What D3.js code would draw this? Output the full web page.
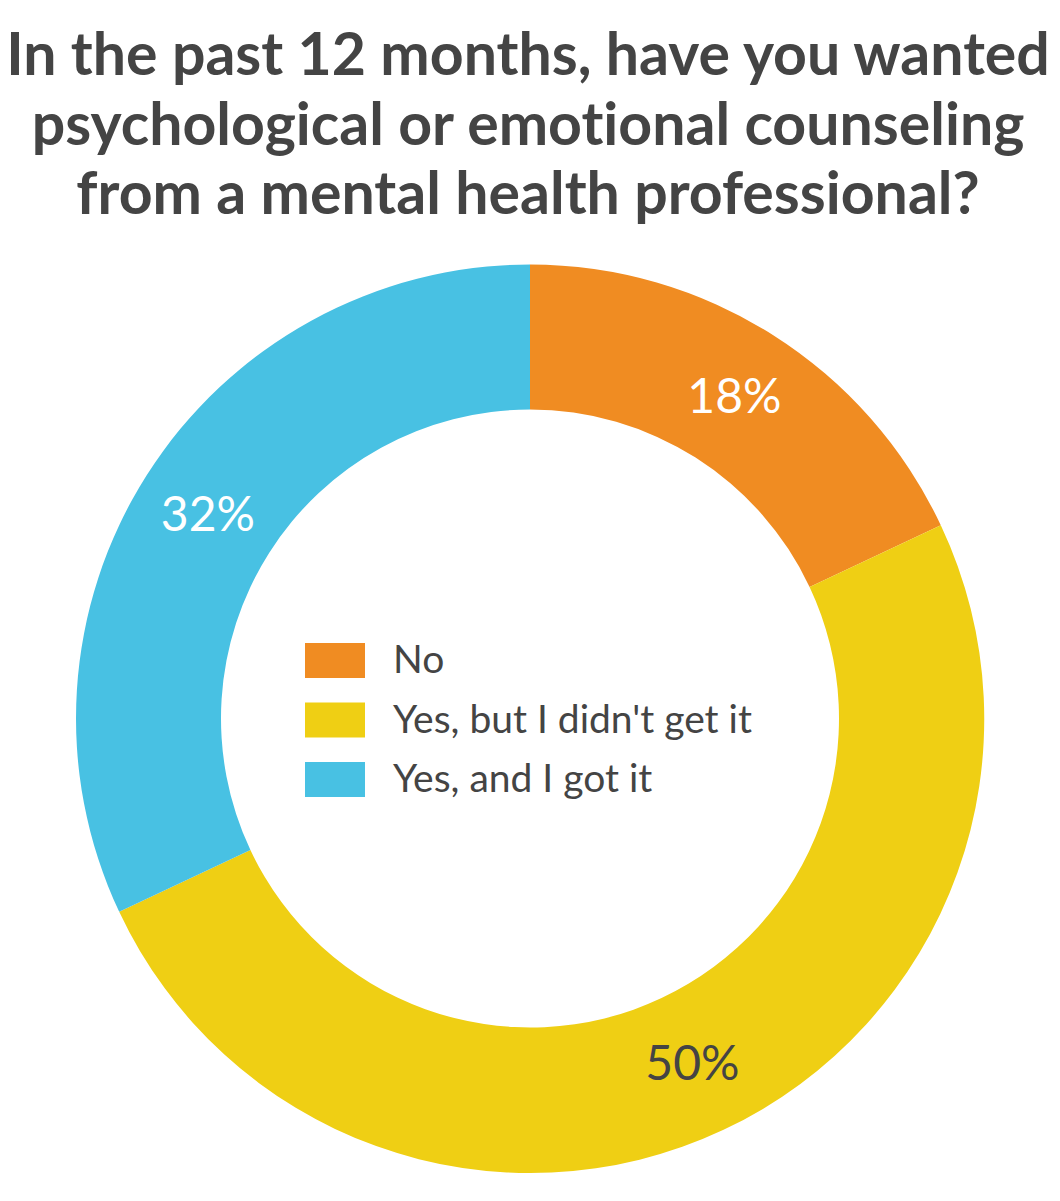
<!DOCTYPE html>
<html>
<head>
<meta charset="utf-8">
<script src="https://cdn.jsdelivr.net/npm/d3@7"></script>
<style>
  html, body { margin: 0; padding: 0; background: #fff; }
  svg { display: block; }
  text { font-variant-ligatures: none; font-feature-settings: "liga" 0; }
</style>
</head>
<body>
<script>
const titleLines = [
  "In the past 12 months, have you wanted",
  "psychological or emotional counseling",
  "from a mental health professional?"
];
const categories = ["No", "Yes, but I didn't get it", "Yes, and I got it"];
const values = [18, 50, 32];
const colors = ["#F08C22", "#EFCF14", "#48C1E3"];
const labelColors = ["#ffffff", "#444444", "#ffffff"];

const W = 1060, H = 1201;
const cx = 530, cy = 718.5, outerR = 454, innerR = 309;

const svg = d3.select("body").append("svg").attr("width", W).attr("height", H);

svg.append("g").selectAll("text").data(titleLines).join("text")
  .attr("x", 528)
  .attr("y", (d, i) => 75 + i * 69.5)
  .attr("text-anchor", "middle")
  .attr("font-family", "Lato, sans-serif")
  .attr("font-weight", 700)
  .attr("font-size", 59)
  .attr("fill", "#444444")
  .text(d => d);

const pie = d3.pie().sort(null).value(d => d.v);
const arcs = pie(values.map((v, i) => ({ v, i })));
const arc = d3.arc().innerRadius(innerR).outerRadius(outerR);
const color = d3.scaleOrdinal().domain(categories).range(colors);

const g = svg.append("g").attr("transform", `translate(${cx},${cy})`);
g.selectAll("path").data(arcs).join("path")
  .attr("d", arc)
  .attr("fill", d => color(categories[d.data.i]));

const total = d3.sum(values);
g.selectAll("text.lbl").data(arcs).join("text")
  .attr("class", "lbl")
  .attr("x", d => arc.centroid(d)[0])
  .attr("y", d => arc.centroid(d)[1])
  .attr("dy", "0.35em")
  .attr("text-anchor", "middle")
  .attr("font-family", "Lato, sans-serif")
  .attr("font-size", 48)
  .attr("fill", d => labelColors[d.data.i])
  .text(d => Math.round(d.data.v / total * 100) + "%");

const leg = svg.append("g").attr("transform", "translate(305,643)");
const rows = leg.selectAll("g").data(categories).join("g")
  .attr("transform", (d, i) => `translate(0,${i * 59.5})`);
rows.append("rect").attr("width", 60).attr("height", 35).attr("fill", d => color(d));
rows.append("text")
  .attr("x", 88).attr("y", 30)
  .attr("font-family", "Lato, sans-serif")
  .attr("font-size", 39)
  .attr("fill", "#444444")
  .text(d => d);
</script>
</body>
</html>
